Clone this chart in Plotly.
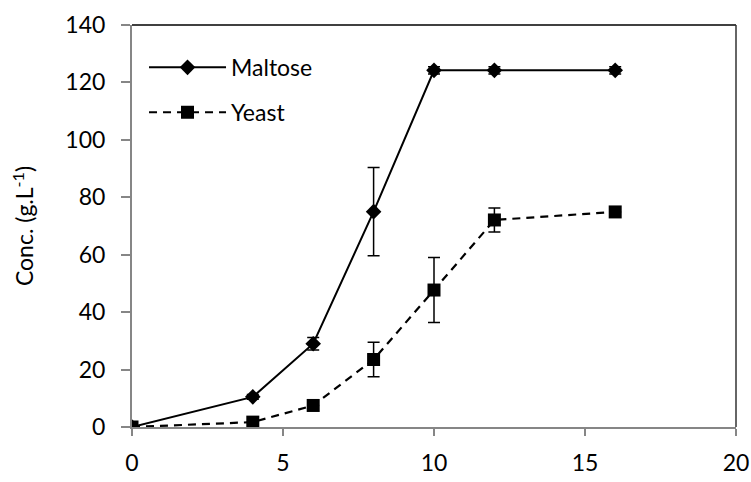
import plotly.graph_objects as go

time_h = [0, 4, 6, 8, 10, 12, 16]
maltose = [0, 10.5, 29, 75, 124.2, 124.2, 124.2]
maltose_err = [0, 0.8, 2.2, 15.4, 1.3, 1.3, 1.3]
yeast = [0, 1.7, 7.5, 23.5, 47.7, 72.1, 74.9]
yeast_err = [0, 0, 0, 6.0, 11.3, 4.2, 0]

x_ticks = [0, 5, 10, 15, 20]
y_ticks = [0, 20, 40, 60, 80, 100, 120, 140]

FONT = "Lato"
FS = 23
fig = go.Figure()
fig.add_trace(go.Scatter(
    x=time_h, y=maltose, name="Maltose", mode="lines+markers",
    legendgroup="m",
    line=dict(color="black", width=2),
    marker=dict(symbol="diamond", size=12, color="black"),
    error_y=dict(type="data", array=maltose_err, visible=True, color="black", thickness=1.5, width=6),
))
fig.add_trace(go.Scatter(
    x=time_h, y=yeast, name="Yeast", mode="lines+markers",
    legendgroup="y",
    line=dict(color="black", width=2.2, dash="8px,6px"),
    marker=dict(symbol="square", size=13, color="black"),
    error_y=dict(type="data", array=yeast_err, visible=True, color="black", thickness=1.5, width=6),
))

axis_gray = "#868686"
fig.update_layout(
    width=751, height=482,
    margin=dict(l=132, r=15, t=25, b=55, autoexpand=False),
    paper_bgcolor="white", plot_bgcolor="white",
    font=dict(family=FONT, size=FS, color="black"),
    showlegend=True,
    legend=dict(x=0.0199, y=0.948, xanchor="left", yanchor="top",
                bgcolor="rgba(0,0,0,0)", itemwidth=77, tracegroupgap=12,
                font=dict(family=FONT, size=FS)),
    xaxis=dict(range=[0, 20], tickvals=x_ticks, ticks="outside", ticklen=7,
               tickcolor=axis_gray, tickwidth=1.5, automargin=False,
               showline=True, linecolor=axis_gray, linewidth=2, showgrid=False,
               zeroline=False, ticklabelstandoff=7),
    yaxis=dict(range=[0, 140], tickvals=y_ticks, ticks="outside", ticklen=9,
               tickcolor=axis_gray, tickwidth=1.5, automargin=False,
               showline=True, linecolor=axis_gray, linewidth=2, showgrid=False,
               zeroline=False, ticklabelstandoff=11,
               title=dict(text="Conc. (g.L<sup>-1</sup>)", standoff=25,
                          font=dict(family=FONT, size=FS))),
    shapes=[
        dict(type="line", xref="paper", yref="paper", x0=0, x1=1, y0=1, y1=1,
             line=dict(color="black", width=1.5)),
        dict(type="line", xref="paper", yref="paper", x0=1, x1=1, y0=0, y1=1,
             line=dict(color="#333333", width=1.5)),
    ],
)
fig.write_html("out.html", config={"displayModeBar": False},
               post_script="document.body.style.margin='0';document.body.style.overflow='hidden';")
